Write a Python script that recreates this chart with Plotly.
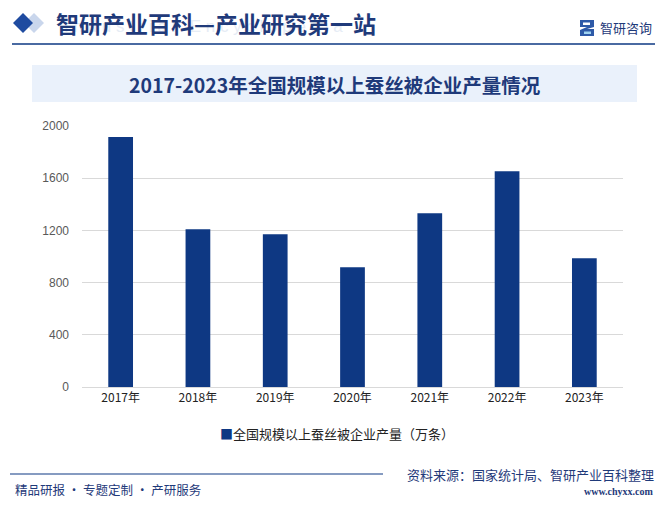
import plotly.graph_objects as go

years = ["2017年", "2018年", "2019年", "2020年", "2021年", "2022年", "2023年"]
output = [1915, 1208, 1170, 917, 1331, 1653, 986]
series_name = "全国规模以上蚕丝被企业产量（万条）"
y_ticks = [0, 400, 800, 1200, 1600, 2000]

W, H = 666, 505
L, R, T, B = 82, 623, 126, 387
NAVY = "#0E3883"
TXT = "#1F3A7A"
FONT = "Noto Sans CJK SC"


def px(x):
    return (x - L) / (R - L)


def py(y):
    return (B - y) / (B - T)


fig = go.Figure()
fig.add_trace(go.Bar(x=years, y=output, name=series_name, marker_color=NAVY,
                     marker_line_width=0, showlegend=False))

shapes = []
annotations = []


def diamond(cx, cy, r, color):
    return dict(type="path", xref="paper", yref="paper",
                path=f"M {px(cx - r)} {py(cy)} L {px(cx)} {py(cy - r)} L {px(cx + r)} {py(cy)} L {px(cx)} {py(cy + r)} Z",
                fillcolor=color, line_width=0, layer="above")


shapes.append(diamond(34, 23, 10, "#C9D6EC"))
shapes.append(diamond(23, 23, 10, "#1F4BA0"))
# header line
shapes.append(dict(type="line", xref="paper", yref="paper", x0=px(12), x1=px(655),
                   y0=py(44), y1=py(44), line=dict(color=NAVY, width=1.5)))
# title box
shapes.append(dict(type="rect", xref="paper", yref="paper", x0=px(32), x1=px(637),
                   y0=py(102), y1=py(65), fillcolor="#EAF1FB", line_width=0, layer="below"))
# footer line
shapes.append(dict(type="line", xref="paper", yref="paper", x0=px(10), x1=px(383),
                   y0=py(474), y1=py(474), line=dict(color=NAVY, width=1.2)))
# logo icon
shapes.append(dict(type="path", xref="paper", yref="paper",
                   path=(f"M {px(580)} {py(20)} L {px(594)} {py(20)} L {px(594)} {py(27)} L {px(587)} {py(29)} "
                         f"L {px(594)} {py(29)} L {px(594)} {py(36)} L {px(580)} {py(36)} L {px(580)} {py(30)} "
                         f"L {px(587)} {py(27)} L {px(580)} {py(27)} Z"),
                   fillcolor="#2E5AA8", line_width=0))
shapes.append(dict(type="rect", xref="paper", yref="paper", x0=px(583), x1=px(590),
                   y0=py(25), y1=py(22.5), fillcolor="white", line_width=0))
shapes.append(dict(type="rect", xref="paper", yref="paper", x0=px(584), x1=px(591),
                   y0=py(34), y1=py(31.5), fillcolor="#9FD3F0", line_width=0))

# watermark
annotations.append(dict(text="I n d u s t r i a l   E n c y c l o p e d i a", x=px(62), y=py(26),
                        xref="paper", yref="paper", showarrow=False, xanchor="left", yanchor="middle",
                        font=dict(family="Arial", size=17, color="#E6ECF5")))
annotations.append(dict(text="<b>智研产业百科—产业研究第一站</b>", x=px(54), y=py(23),
                        xref="paper", yref="paper", showarrow=False, xanchor="left", yanchor="middle",
                        font=dict(family=FONT, size=23, color=TXT)))
annotations.append(dict(text="智研咨询", x=px(654), y=py(28),
                        xref="paper", yref="paper", showarrow=False, xanchor="right", yanchor="middle",
                        font=dict(family=FONT, size=13, color=TXT)))
annotations.append(dict(text="<b>2017-2023年全国规模以上蚕丝被企业产量情况</b>", x=px(335), y=py(84),
                        xref="paper", yref="paper", showarrow=False, xanchor="center", yanchor="middle",
                        font=dict(family=FONT, size=19.5, color=TXT)))
# legend (drawn as text so marker sits right beside the label)
annotations.append(dict(text=f"<span style='color:{NAVY}'>■</span>{series_name}", x=px(337), y=py(433),
                        xref="paper", yref="paper", showarrow=False, xanchor="center", yanchor="middle",
                        font=dict(family=FONT, size=13, color="#222222")))
annotations.append(dict(text="精品研报 · 专题定制 · 产研服务", x=px(13), y=py(489),
                        xref="paper", yref="paper", showarrow=False, xanchor="left", yanchor="middle",
                        font=dict(family=FONT, size=12.5, color=TXT)))
annotations.append(dict(text="资料来源：国家统计局、智研产业百科整理", x=px(656), y=py(474),
                        xref="paper", yref="paper", showarrow=False, xanchor="right", yanchor="middle",
                        font=dict(family=FONT, size=13, color=TXT)))
annotations.append(dict(text="<b>www.chyxx.com</b>", x=px(656), y=py(491),
                        xref="paper", yref="paper", showarrow=False, xanchor="right", yanchor="middle",
                        font=dict(family="Liberation Serif", size=10, color=TXT)))

fig.update_layout(
    width=W, height=H,
    margin=dict(l=L, r=W - R, t=T, b=H - B, pad=0),
    paper_bgcolor="white", plot_bgcolor="white",
    bargap=0.68,
    font=dict(family=FONT, size=12, color="#333333"),
    shapes=shapes, annotations=annotations,
    showlegend=False,
    xaxis=dict(showline=True, linecolor="#D9D9D9", ticks="", tickfont=dict(family=FONT, size=12, color="#222222"),
               showgrid=False, fixedrange=True),
    yaxis=dict(range=[0, 2000], tickvals=y_ticks, showgrid=True, gridcolor="#D9D9D9", gridwidth=1,
               zeroline=False, showline=False, ticks="", ticklabelstandoff=12,
               tickfont=dict(family="Liberation Sans", size=12, color="#595959"), fixedrange=True),
)

fig.write_html("out.html")
